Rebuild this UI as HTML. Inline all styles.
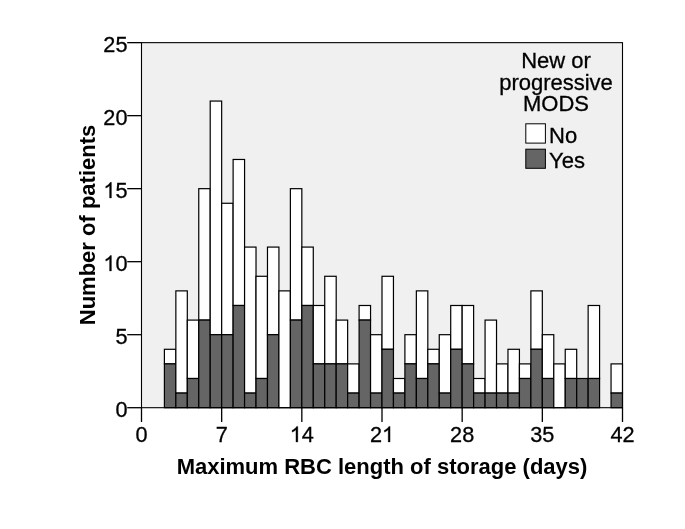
<!DOCTYPE html>
<html><head><meta charset="utf-8"><style>
html,body{margin:0;padding:0;background:#fff;}
svg{display:block;font-family:"Liberation Sans",sans-serif;filter:grayscale(1);}
</style></head><body>
<svg width="685" height="529" viewBox="0 0 685 529">
<rect x="141.5" y="42.65" width="481.0" height="365.05" fill="#f0f0f0"/>
<rect x="164.40" y="349.29" width="11.45" height="14.60" fill="#fff" stroke="#000" stroke-width="1.2"/>
<rect x="164.40" y="363.89" width="11.45" height="43.81" fill="#656565" stroke="#000" stroke-width="1.2"/>
<rect x="175.86" y="290.88" width="11.45" height="102.21" fill="#fff" stroke="#000" stroke-width="1.2"/>
<rect x="175.86" y="393.10" width="11.45" height="14.60" fill="#656565" stroke="#000" stroke-width="1.2"/>
<rect x="187.31" y="320.09" width="11.45" height="58.41" fill="#fff" stroke="#000" stroke-width="1.2"/>
<rect x="187.31" y="378.50" width="11.45" height="29.20" fill="#656565" stroke="#000" stroke-width="1.2"/>
<rect x="198.76" y="188.67" width="11.45" height="131.42" fill="#fff" stroke="#000" stroke-width="1.2"/>
<rect x="198.76" y="320.09" width="11.45" height="87.61" fill="#656565" stroke="#000" stroke-width="1.2"/>
<rect x="210.21" y="101.06" width="11.45" height="233.63" fill="#fff" stroke="#000" stroke-width="1.2"/>
<rect x="210.21" y="334.69" width="11.45" height="73.01" fill="#656565" stroke="#000" stroke-width="1.2"/>
<rect x="221.67" y="203.27" width="11.45" height="131.42" fill="#fff" stroke="#000" stroke-width="1.2"/>
<rect x="221.67" y="334.69" width="11.45" height="73.01" fill="#656565" stroke="#000" stroke-width="1.2"/>
<rect x="233.12" y="159.47" width="11.45" height="146.02" fill="#fff" stroke="#000" stroke-width="1.2"/>
<rect x="233.12" y="305.49" width="11.45" height="102.21" fill="#656565" stroke="#000" stroke-width="1.2"/>
<rect x="244.57" y="247.08" width="11.45" height="146.02" fill="#fff" stroke="#000" stroke-width="1.2"/>
<rect x="244.57" y="393.10" width="11.45" height="14.60" fill="#656565" stroke="#000" stroke-width="1.2"/>
<rect x="256.02" y="276.28" width="11.45" height="102.21" fill="#fff" stroke="#000" stroke-width="1.2"/>
<rect x="256.02" y="378.50" width="11.45" height="29.20" fill="#656565" stroke="#000" stroke-width="1.2"/>
<rect x="267.48" y="247.08" width="11.45" height="87.61" fill="#fff" stroke="#000" stroke-width="1.2"/>
<rect x="267.48" y="334.69" width="11.45" height="73.01" fill="#656565" stroke="#000" stroke-width="1.2"/>
<rect x="278.93" y="290.88" width="11.45" height="116.82" fill="#fff" stroke="#000" stroke-width="1.2"/>
<rect x="290.38" y="188.67" width="11.45" height="131.42" fill="#fff" stroke="#000" stroke-width="1.2"/>
<rect x="290.38" y="320.09" width="11.45" height="87.61" fill="#656565" stroke="#000" stroke-width="1.2"/>
<rect x="301.83" y="247.08" width="11.45" height="58.41" fill="#fff" stroke="#000" stroke-width="1.2"/>
<rect x="301.83" y="305.49" width="11.45" height="102.21" fill="#656565" stroke="#000" stroke-width="1.2"/>
<rect x="313.29" y="305.49" width="11.45" height="58.41" fill="#fff" stroke="#000" stroke-width="1.2"/>
<rect x="313.29" y="363.89" width="11.45" height="43.81" fill="#656565" stroke="#000" stroke-width="1.2"/>
<rect x="324.74" y="276.28" width="11.45" height="87.61" fill="#fff" stroke="#000" stroke-width="1.2"/>
<rect x="324.74" y="363.89" width="11.45" height="43.81" fill="#656565" stroke="#000" stroke-width="1.2"/>
<rect x="336.19" y="320.09" width="11.45" height="43.81" fill="#fff" stroke="#000" stroke-width="1.2"/>
<rect x="336.19" y="363.89" width="11.45" height="43.81" fill="#656565" stroke="#000" stroke-width="1.2"/>
<rect x="347.64" y="363.89" width="11.45" height="29.20" fill="#fff" stroke="#000" stroke-width="1.2"/>
<rect x="347.64" y="393.10" width="11.45" height="14.60" fill="#656565" stroke="#000" stroke-width="1.2"/>
<rect x="359.10" y="305.49" width="11.45" height="14.60" fill="#fff" stroke="#000" stroke-width="1.2"/>
<rect x="359.10" y="320.09" width="11.45" height="87.61" fill="#656565" stroke="#000" stroke-width="1.2"/>
<rect x="370.55" y="334.69" width="11.45" height="58.41" fill="#fff" stroke="#000" stroke-width="1.2"/>
<rect x="370.55" y="393.10" width="11.45" height="14.60" fill="#656565" stroke="#000" stroke-width="1.2"/>
<rect x="382.00" y="276.28" width="11.45" height="73.01" fill="#fff" stroke="#000" stroke-width="1.2"/>
<rect x="382.00" y="349.29" width="11.45" height="58.41" fill="#656565" stroke="#000" stroke-width="1.2"/>
<rect x="393.45" y="378.50" width="11.45" height="14.60" fill="#fff" stroke="#000" stroke-width="1.2"/>
<rect x="393.45" y="393.10" width="11.45" height="14.60" fill="#656565" stroke="#000" stroke-width="1.2"/>
<rect x="404.90" y="334.69" width="11.45" height="29.20" fill="#fff" stroke="#000" stroke-width="1.2"/>
<rect x="404.90" y="363.89" width="11.45" height="43.81" fill="#656565" stroke="#000" stroke-width="1.2"/>
<rect x="416.36" y="290.88" width="11.45" height="87.61" fill="#fff" stroke="#000" stroke-width="1.2"/>
<rect x="416.36" y="378.50" width="11.45" height="29.20" fill="#656565" stroke="#000" stroke-width="1.2"/>
<rect x="427.81" y="349.29" width="11.45" height="14.60" fill="#fff" stroke="#000" stroke-width="1.2"/>
<rect x="427.81" y="363.89" width="11.45" height="43.81" fill="#656565" stroke="#000" stroke-width="1.2"/>
<rect x="439.26" y="334.69" width="11.45" height="58.41" fill="#fff" stroke="#000" stroke-width="1.2"/>
<rect x="439.26" y="393.10" width="11.45" height="14.60" fill="#656565" stroke="#000" stroke-width="1.2"/>
<rect x="450.71" y="305.49" width="11.45" height="43.81" fill="#fff" stroke="#000" stroke-width="1.2"/>
<rect x="450.71" y="349.29" width="11.45" height="58.41" fill="#656565" stroke="#000" stroke-width="1.2"/>
<rect x="462.17" y="305.49" width="11.45" height="58.41" fill="#fff" stroke="#000" stroke-width="1.2"/>
<rect x="462.17" y="363.89" width="11.45" height="43.81" fill="#656565" stroke="#000" stroke-width="1.2"/>
<rect x="473.62" y="378.50" width="11.45" height="14.60" fill="#fff" stroke="#000" stroke-width="1.2"/>
<rect x="473.62" y="393.10" width="11.45" height="14.60" fill="#656565" stroke="#000" stroke-width="1.2"/>
<rect x="485.07" y="320.09" width="11.45" height="73.01" fill="#fff" stroke="#000" stroke-width="1.2"/>
<rect x="485.07" y="393.10" width="11.45" height="14.60" fill="#656565" stroke="#000" stroke-width="1.2"/>
<rect x="496.52" y="363.89" width="11.45" height="29.20" fill="#fff" stroke="#000" stroke-width="1.2"/>
<rect x="496.52" y="393.10" width="11.45" height="14.60" fill="#656565" stroke="#000" stroke-width="1.2"/>
<rect x="507.98" y="349.29" width="11.45" height="43.81" fill="#fff" stroke="#000" stroke-width="1.2"/>
<rect x="507.98" y="393.10" width="11.45" height="14.60" fill="#656565" stroke="#000" stroke-width="1.2"/>
<rect x="519.43" y="363.89" width="11.45" height="14.60" fill="#fff" stroke="#000" stroke-width="1.2"/>
<rect x="519.43" y="378.50" width="11.45" height="29.20" fill="#656565" stroke="#000" stroke-width="1.2"/>
<rect x="530.88" y="290.88" width="11.45" height="58.41" fill="#fff" stroke="#000" stroke-width="1.2"/>
<rect x="530.88" y="349.29" width="11.45" height="58.41" fill="#656565" stroke="#000" stroke-width="1.2"/>
<rect x="542.33" y="334.69" width="11.45" height="43.81" fill="#fff" stroke="#000" stroke-width="1.2"/>
<rect x="542.33" y="378.50" width="11.45" height="29.20" fill="#656565" stroke="#000" stroke-width="1.2"/>
<rect x="553.79" y="363.89" width="11.45" height="43.81" fill="#fff" stroke="#000" stroke-width="1.2"/>
<rect x="565.24" y="349.29" width="11.45" height="29.20" fill="#fff" stroke="#000" stroke-width="1.2"/>
<rect x="565.24" y="378.50" width="11.45" height="29.20" fill="#656565" stroke="#000" stroke-width="1.2"/>
<rect x="576.69" y="378.50" width="11.45" height="29.20" fill="#656565" stroke="#000" stroke-width="1.2"/>
<rect x="588.14" y="305.49" width="11.45" height="73.01" fill="#fff" stroke="#000" stroke-width="1.2"/>
<rect x="588.14" y="378.50" width="11.45" height="29.20" fill="#656565" stroke="#000" stroke-width="1.2"/>
<rect x="611.05" y="363.89" width="11.45" height="29.20" fill="#fff" stroke="#000" stroke-width="1.2"/>
<rect x="611.05" y="393.10" width="11.45" height="14.60" fill="#656565" stroke="#000" stroke-width="1.2"/>
<rect x="141.5" y="42.65" width="481.0" height="365.05" fill="none" stroke="#000" stroke-width="1.1"/>
<line x1="127.2" y1="407.70" x2="141.5" y2="407.70" stroke="#000" stroke-width="1.3"/>
<text transform="translate(115.43,417.00) scale(1,1.0)" text-anchor="start" font-size="21.7" stroke="#000" stroke-width="0.3">0</text>
<line x1="127.2" y1="334.69" x2="141.5" y2="334.69" stroke="#000" stroke-width="1.3"/>
<text transform="translate(115.43,343.99) scale(1,1.0)" text-anchor="start" font-size="21.7" stroke="#000" stroke-width="0.3">5</text>
<line x1="127.2" y1="261.68" x2="141.5" y2="261.68" stroke="#000" stroke-width="1.3"/>
<path transform="translate(103.36,270.98) scale(0.01060,-0.01060)" d="M763 0L583 0L583 1147Q518 1085 412 1023Q306 961 222 930L222 1104Q373 1175 486 1276Q599 1377 646 1472L763 1472Z" fill="#000" stroke="#000" stroke-width="28.3"/>
<text transform="translate(115.43,270.98) scale(1,1.0)" text-anchor="start" font-size="21.7" stroke="#000" stroke-width="0.3">0</text>
<line x1="127.2" y1="188.67" x2="141.5" y2="188.67" stroke="#000" stroke-width="1.3"/>
<path transform="translate(103.36,197.97) scale(0.01060,-0.01060)" d="M763 0L583 0L583 1147Q518 1085 412 1023Q306 961 222 930L222 1104Q373 1175 486 1276Q599 1377 646 1472L763 1472Z" fill="#000" stroke="#000" stroke-width="28.3"/>
<text transform="translate(115.43,197.97) scale(1,1.0)" text-anchor="start" font-size="21.7" stroke="#000" stroke-width="0.3">5</text>
<line x1="127.2" y1="115.66" x2="141.5" y2="115.66" stroke="#000" stroke-width="1.3"/>
<text transform="translate(103.36,124.96) scale(1,1.0)" text-anchor="start" font-size="21.7" stroke="#000" stroke-width="0.3">2</text>
<text transform="translate(115.43,124.96) scale(1,1.0)" text-anchor="start" font-size="21.7" stroke="#000" stroke-width="0.3">0</text>
<line x1="127.2" y1="42.65" x2="141.5" y2="42.65" stroke="#000" stroke-width="1.3"/>
<text transform="translate(103.36,51.95) scale(1,1.0)" text-anchor="start" font-size="21.7" stroke="#000" stroke-width="0.3">2</text>
<text transform="translate(115.43,51.95) scale(1,1.0)" text-anchor="start" font-size="21.7" stroke="#000" stroke-width="0.3">5</text>
<line x1="141.50" y1="407.7" x2="141.50" y2="422.0" stroke="#000" stroke-width="1.3"/>
<text transform="translate(135.47,442.00) scale(1,1.0)" text-anchor="start" font-size="21.7" stroke="#000" stroke-width="0.3">0</text>
<line x1="221.67" y1="407.7" x2="221.67" y2="422.0" stroke="#000" stroke-width="1.3"/>
<text transform="translate(215.63,442.00) scale(1,1.0)" text-anchor="start" font-size="21.7" stroke="#000" stroke-width="0.3">7</text>
<line x1="301.83" y1="407.7" x2="301.83" y2="422.0" stroke="#000" stroke-width="1.3"/>
<path transform="translate(289.76,442.00) scale(0.01060,-0.01060)" d="M763 0L583 0L583 1147Q518 1085 412 1023Q306 961 222 930L222 1104Q373 1175 486 1276Q599 1377 646 1472L763 1472Z" fill="#000" stroke="#000" stroke-width="28.3"/>
<text transform="translate(301.83,442.00) scale(1,1.0)" text-anchor="start" font-size="21.7" stroke="#000" stroke-width="0.3">4</text>
<line x1="382.00" y1="407.7" x2="382.00" y2="422.0" stroke="#000" stroke-width="1.3"/>
<text transform="translate(369.93,442.00) scale(1,1.0)" text-anchor="start" font-size="21.7" stroke="#000" stroke-width="0.3">2</text>
<path transform="translate(382.00,442.00) scale(0.01060,-0.01060)" d="M763 0L583 0L583 1147Q518 1085 412 1023Q306 961 222 930L222 1104Q373 1175 486 1276Q599 1377 646 1472L763 1472Z" fill="#000" stroke="#000" stroke-width="28.3"/>
<line x1="462.17" y1="407.7" x2="462.17" y2="422.0" stroke="#000" stroke-width="1.3"/>
<text transform="translate(450.10,442.00) scale(1,1.0)" text-anchor="start" font-size="21.7" stroke="#000" stroke-width="0.3">2</text>
<text transform="translate(462.17,442.00) scale(1,1.0)" text-anchor="start" font-size="21.7" stroke="#000" stroke-width="0.3">8</text>
<line x1="542.33" y1="407.7" x2="542.33" y2="422.0" stroke="#000" stroke-width="1.3"/>
<text transform="translate(530.26,442.00) scale(1,1.0)" text-anchor="start" font-size="21.7" stroke="#000" stroke-width="0.3">3</text>
<text transform="translate(542.33,442.00) scale(1,1.0)" text-anchor="start" font-size="21.7" stroke="#000" stroke-width="0.3">5</text>
<line x1="622.50" y1="407.7" x2="622.50" y2="422.0" stroke="#000" stroke-width="1.3"/>
<text transform="translate(610.43,442.00) scale(1,1.0)" text-anchor="start" font-size="21.7" stroke="#000" stroke-width="0.3">4</text>
<text transform="translate(622.50,442.00) scale(1,1.0)" text-anchor="start" font-size="21.7" stroke="#000" stroke-width="0.3">2</text>
<text transform="translate(382.00,474.30) scale(1,1.0)" text-anchor="middle" font-size="22" font-weight="bold">Maximum RBC length of storage (days)</text>
<text transform="translate(94.50,225.00) scale(1,1.0) rotate(-90)" text-anchor="middle" font-size="22" font-weight="bold">Number of patients</text>
<text transform="translate(556.00,67.90) scale(1,1.0)" text-anchor="middle" font-size="22" stroke="#000" stroke-width="0.3">New or</text>
<text transform="translate(556.00,89.65) scale(1,1.0)" text-anchor="middle" font-size="22" stroke="#000" stroke-width="0.3">progressive</text>
<text transform="translate(556.00,111.40) scale(1,1.0)" text-anchor="middle" font-size="22" stroke="#000" stroke-width="0.3">MODS</text>
<rect x="525.8" y="123.8" width="19.6" height="19.3" fill="#fff" stroke="#000" stroke-width="1"/>
<rect x="525.8" y="149.2" width="19.6" height="19.1" fill="#656565" stroke="#000" stroke-width="1"/>
<text transform="translate(549.00,142.60) scale(1,1.0)" text-anchor="start" font-size="22" stroke="#000" stroke-width="0.3">No</text>
<text transform="translate(549.00,167.80) scale(1,1.0)" text-anchor="start" font-size="22" stroke="#000" stroke-width="0.3">Yes</text>
</svg>
</body></html>
